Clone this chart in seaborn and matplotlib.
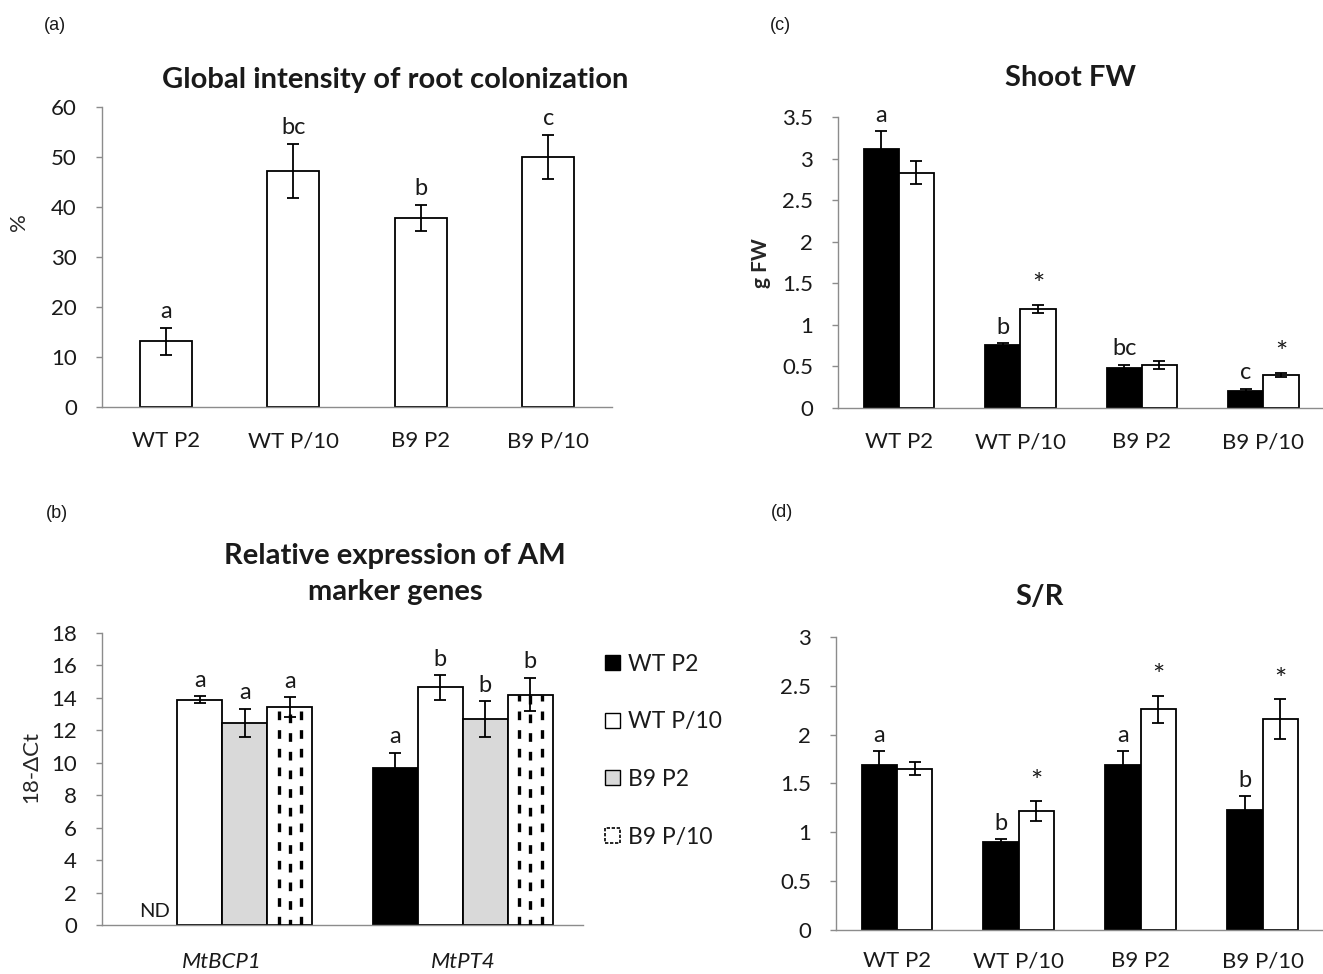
import numpy as np
import pandas as pd
import matplotlib
matplotlib.use('Agg')
import matplotlib.pyplot as plt
from matplotlib.patches import Patch
from matplotlib.ticker import FuncFormatter, MultipleLocator
import seaborn as sns

# ---------------------------------------------------------
# Data
# ---------------------------------------------------------
treatments = ['WT P2', 'WT P/10', 'B9 P2', 'B9 P/10']

# (a) global intensity of root colonization (%)
col_mean = [13.2, 47.3, 37.8, 50.1]
col_err = [2.7, 5.4, 2.6, 4.4]
col_letters = ['a', 'bc', 'b', 'c']

# (b) relative expression of AM marker genes (18-ΔCt), ND = not detected
genes = ['MtBCP1', 'MtPT4']
expr_wt_p2 = [np.nan, 9.7]
expr_wt_p10 = [13.9, 14.65]
expr_b9_p2 = [12.45, 12.7]
expr_b9_p10 = [13.45, 14.2]
expr_wt_p2_err = [0.0, 0.93]
expr_wt_p10_err = [0.2, 0.75]
expr_b9_p2_err = [0.87, 1.1]
expr_b9_p10_err = [0.6, 1.03]
expr_wt_p2_let = ['', 'a']
expr_wt_p10_let = ['a', 'b']
expr_b9_p2_let = ['a', 'b']
expr_b9_p10_let = ['a', 'b']

# (c) shoot fresh weight (g FW): filled (black) and open (white) bars
fw_filled = [3.12, 0.76, 0.48, 0.21]
fw_filled_err = [0.21, 0.02, 0.04, 0.02]
fw_open = [2.83, 1.19, 0.52, 0.40]
fw_open_err = [0.14, 0.05, 0.05, 0.025]
fw_filled_let = ['a', 'b', 'bc', 'c']
fw_open_let = ['', '*', '', '*']

# (d) shoot / root ratio
sr_filled = [1.69, 0.90, 1.69, 1.23]
sr_filled_err = [0.14, 0.03, 0.14, 0.14]
sr_open = [1.65, 1.22, 2.26, 2.16]
sr_open_err = [0.065, 0.10, 0.14, 0.20]
sr_filled_let = ['a', 'b', 'a', 'b']
sr_open_let = ['', '*', '*', '*']

AXIS_GREY = '#8c8c8c'
TXT = '#1a1a1a'
TICK_FS = 16
TITLE_FS = 21

sns.set_style('white')
plt.rcParams['font.family'] = ['Lato', 'DejaVu Sans']
plt.rcParams['text.color'] = TXT
plt.rcParams['xtick.color'] = TXT
plt.rcParams['ytick.color'] = TXT


def style_axis(ax, ymax, step, xpad=29):
    ax.set_ylim(0, ymax)
    ax.yaxis.set_major_locator(MultipleLocator(step))
    ax.yaxis.set_major_formatter(FuncFormatter(lambda v, p: f'{v:g}'))
    for s in ['top', 'right']:
        ax.spines[s].set_visible(False)
    for s in ['left', 'bottom']:
        ax.spines[s].set_color(AXIS_GREY)
        ax.spines[s].set_linewidth(1.0)
    n = len(ax.get_xticks())
    ax.set_xlim(-0.5, n - 0.5)
    ax.set_xticks(np.arange(-0.5, n), minor=True)
    ax.tick_params(axis='x', which='major', length=0, pad=xpad, labelsize=TICK_FS)
    ax.tick_params(axis='x', which='minor', length=6, color=AXIS_GREY, width=1)
    ax.tick_params(axis='y', length=4, color=AXIS_GREY, width=1, labelsize=TICK_FS, pad=14, left=True)
    ax.set_xlabel('')
    ax.set_ylabel('')
    ax.grid(False)


def baseline_labels(ax):
    # keep all category labels on one baseline
    for lbl in ax.get_xticklabels():
        lbl.set_verticalalignment('baseline')


def add_errors_and_letters(ax, containers, errs, letters, dy=4):
    # containers: one BarContainer per series, errs/letters: per series lists per group
    for i, cont in enumerate(containers):
        for bar in cont:
            h = bar.get_height()
            if np.isnan(h):
                continue
            cx = bar.get_x() + bar.get_width() / 2
            g = int(round(cx))
            e = errs[i][g]
            ax.errorbar(cx, h, yerr=e, fmt='none', ecolor='black', elinewidth=1.3,
                        capsize=4, capthick=1.3, zorder=5)
            lab = letters[i][g]
            if lab:
                ax.annotate(lab, xy=(cx, h + e), xytext=(0, dy),
                            textcoords='offset points', ha='center', va='bottom',
                            fontsize=21 if lab == '*' else 17, color=TXT)


def dash_fill(ax, cont):
    # white bars with dashed vertical lines (B9 P/10 pattern)
    for bar in cont:
        h = bar.get_height()
        if np.isnan(h):
            continue
        x0, w = bar.get_x(), bar.get_width()
        for frac, ph in [(0.25, 0), (0.5, 6.5), (0.75, 0)]:
            ax.plot([x0 + frac * w] * 2, [0, h], color='black', lw=2.4,
                    linestyle=(ph, (2.6, 3.0)), solid_capstyle='butt', zorder=4)


fig = plt.figure(figsize=(13.23, 9.74), dpi=100)

# ---------------------------------------------------------
# (a) colonization
# ---------------------------------------------------------
ax_a = fig.add_axes([0.0771, 0.5821, 0.3855, 0.308])
df_a = pd.DataFrame({'trat': treatments, 'valor': col_mean})
sns.barplot(data=df_a, x='trat', y='valor', color='white', edgecolor='black',
            linewidth=1.3, width=0.41, errorbar=None, saturation=1, ax=ax_a)
cont_a = list(ax_a.containers)
style_axis(ax_a, 60, 10)
baseline_labels(ax_a)
add_errors_and_letters(ax_a, cont_a, [col_err], [col_letters], dy=4)
ax_a.set_ylabel('%', fontsize=16, va='center')
ax_a.yaxis.set_label_coords(-0.163, 0.617)
fig.text(0.2986, 0.918, 'Global intensity of root colonization', ha='center', va='center',
         fontsize=TITLE_FS, fontweight='bold')
fig.text(0.033, 0.974, '(a)', ha='left', va='center', fontsize=13,
         family=['Liberation Sans', 'DejaVu Sans'])

# ---------------------------------------------------------
# (b) gene expression
# ---------------------------------------------------------
ax_b = fig.add_axes([0.0771, 0.0503, 0.3636, 0.2998])
df_b = pd.DataFrame({
    'gene': genes * 4,
    'serie': [s for s in treatments for _ in genes],
    'valor': expr_wt_p2 + expr_wt_p10 + expr_b9_p2 + expr_b9_p10,
})
pal_b = {'WT P2': 'black', 'WT P/10': 'white', 'B9 P2': '#d9d9d9', 'B9 P/10': 'white'}
sns.barplot(data=df_b, x='gene', y='valor', hue='serie', order=genes, hue_order=treatments,
            palette=pal_b, edgecolor='black', linewidth=1.3, width=0.75, gap=0,
            errorbar=None, saturation=1, legend=False, ax=ax_b)
cont_b = list(ax_b.containers)
style_axis(ax_b, 18, 2, xpad=31)
ax_b.set_xticks(range(len(genes)))
ax_b.set_xticklabels(genes, fontstyle='italic')
baseline_labels(ax_b)
dash_fill(ax_b, cont_b[3])
add_errors_and_letters(ax_b, cont_b,
                       [expr_wt_p2_err, expr_wt_p10_err, expr_b9_p2_err, expr_b9_p10_err],
                       [expr_wt_p2_let, expr_wt_p10_let, expr_b9_p2_let, expr_b9_p10_let])
# ND marker where WT P2 bar is missing
ref = cont_b[1][0]
ax_b.text(ref.get_x() - ref.get_width() / 2, 0.3, 'ND', ha='center', va='bottom', fontsize=14.5)
ax_b.set_ylabel('18-ΔCt', fontsize=16, va='center')
ax_b.yaxis.set_label_coords(-0.148, 0.541)
fig.text(0.2986, 0.4105, 'Relative expression of AM\nmarker genes', ha='center', va='center',
         fontsize=TITLE_FS, fontweight='bold', linespacing=1.5)
fig.text(0.035, 0.473, '(b)', ha='left', va='center', fontsize=13,
         family=['Liberation Sans', 'DejaVu Sans'])
handles = [Patch(facecolor=pal_b[s], edgecolor='black', linewidth=1.0) for s in treatments]
handles[3] = Patch(facecolor='white', edgecolor='black', linewidth=1.2, linestyle=(0, (2, 1)))
fig.legend(handles, treatments, loc='upper left', bbox_to_anchor=(0.4575, 0.329),
           frameon=False, fontsize=16.5, handlelength=0.65, handleheight=0.65,
           handletextpad=0.35, labelspacing=1.6, borderpad=0, borderaxespad=0)

# ---------------------------------------------------------
# (c) shoot FW
# ---------------------------------------------------------
ax_c = fig.add_axes([0.6334, 0.5811, 0.3674, 0.2988])
df_c = pd.DataFrame({
    'trat': treatments * 2,
    'serie': ['filled'] * 4 + ['open'] * 4,
    'valor': fw_filled + fw_open,
})
pal_c = {'filled': 'black', 'open': 'white'}
sns.barplot(data=df_c, x='trat', y='valor', hue='serie', palette=pal_c, edgecolor='black',
            linewidth=1.3, width=0.58, gap=0, errorbar=None, saturation=1, legend=False, ax=ax_c)
cont_c = list(ax_c.containers)
style_axis(ax_c, 3.5, 0.5)
baseline_labels(ax_c)
add_errors_and_letters(ax_c, cont_c, [fw_filled_err, fw_open_err], [fw_filled_let, fw_open_let])
ax_c.set_ylabel('g FW', fontsize=15, fontweight='bold', va='center')
ax_c.yaxis.set_label_coords(-0.158, 0.498)
fig.text(0.8088, 0.920, 'Shoot FW', ha='center', va='center', fontsize=TITLE_FS, fontweight='bold')
fig.text(0.582, 0.974, '(c)', ha='left', va='center', fontsize=13,
         family=['Liberation Sans', 'DejaVu Sans'])

# ---------------------------------------------------------
# (d) S/R
# ---------------------------------------------------------
ax_d = fig.add_axes([0.6319, 0.0452, 0.3685, 0.3008])
df_d = pd.DataFrame({
    'trat': treatments * 2,
    'serie': ['filled'] * 4 + ['open'] * 4,
    'valor': sr_filled + sr_open,
})
sns.barplot(data=df_d, x='trat', y='valor', hue='serie', palette=pal_c, edgecolor='black',
            linewidth=1.3, width=0.58, gap=0, errorbar=None, saturation=1, legend=False, ax=ax_d)
cont_d = list(ax_d.containers)
style_axis(ax_d, 3, 0.5, xpad=27)
baseline_labels(ax_d)
add_errors_and_letters(ax_d, cont_d, [sr_filled_err, sr_open_err], [sr_filled_let, sr_open_let])
fig.text(0.786, 0.387, 'S/R', ha='center', va='center', fontsize=TITLE_FS, fontweight='bold')
fig.text(0.583, 0.474, '(d)', ha='left', va='center', fontsize=13,
         family=['Liberation Sans', 'DejaVu Sans'])

fig.savefig('out.png', dpi=100)
